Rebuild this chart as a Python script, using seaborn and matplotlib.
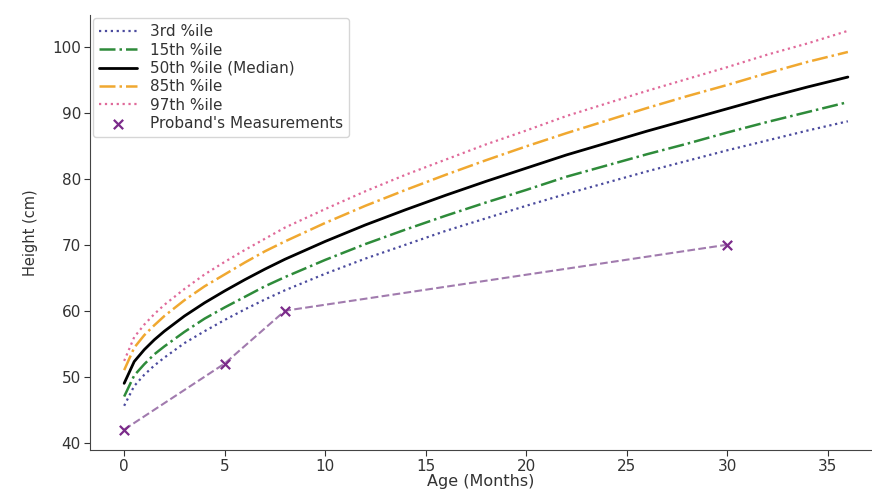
import matplotlib
matplotlib.use("Agg")
import matplotlib.pyplot as plt
import seaborn as sns
import pandas as pd

# Data
ages = [0, 0.5, 1, 1.5, 2, 3, 4, 5, 6, 7, 8, 10, 12, 14, 16, 18, 20, 22, 24, 26, 28, 30, 32, 34, 36]
p3 = [45.6, 48.6, 50.3, 51.7, 52.9, 55.1, 56.9, 58.6, 60.2, 61.7, 63.1, 65.6, 67.9, 70.0, 72.1, 74.0,
      75.9, 77.7, 79.4, 81.1, 82.7, 84.3, 85.8, 87.3, 88.7]
p15 = [47.0, 50.2, 51.9, 53.4, 54.6, 56.8, 58.8, 60.5, 62.1, 63.7, 65.1, 67.7, 70.1, 72.3, 74.4, 76.4,
       78.3, 80.3, 82.0, 83.7, 85.3, 87.0, 88.6, 90.1, 91.6]
p50 = [49.0, 52.3, 54.1, 55.6, 56.9, 59.2, 61.2, 63.0, 64.7, 66.3, 67.8, 70.5, 73.0, 75.3, 77.5, 79.6,
       81.6, 83.6, 85.4, 87.2, 88.9, 90.6, 92.3, 93.9, 95.4]
p85 = [51.0, 54.4, 56.3, 57.8, 59.2, 61.6, 63.7, 65.5, 67.3, 69.0, 70.5, 73.3, 75.9, 78.3, 80.6, 82.8,
       84.9, 86.9, 88.8, 90.7, 92.5, 94.2, 96.0, 97.7, 99.2]
p97 = [52.4, 56.0, 57.9, 59.5, 60.9, 63.3, 65.5, 67.4, 69.2, 70.9, 72.6, 75.4, 78.1, 80.6, 82.9, 85.2,
       87.3, 89.5, 91.4, 93.3, 95.1, 96.9, 98.8, 100.5, 102.4]

proband_ages = [0, 5, 8, 30]
proband_heights = [42, 52, 60, 70]

sns.set_style("ticks")
plt.rcParams['font.family'] = ['DejaVu Sans']

fig = plt.figure(figsize=(8.72, 4.9), dpi=100)
ax = fig.add_axes([0.1032, 0.0816, 0.8968, 0.8878])

curves = pd.DataFrame({"age": ages, "p3": p3, "p15": p15, "p50": p50, "p85": p85, "p97": p97})
styles = [
    ("p3", "3rd %ile", "#4b4b9e", ":", 1.6),
    ("p15", "15th %ile", "#2e8b3a", "-.", 1.8),
    ("p50", "50th %ile (Median)", "black", "-", 2.0),
    ("p85", "85th %ile", "#f0a830", "-.", 1.8),
    ("p97", "97th %ile", "#e06a9a", ":", 1.6),
]
for col, lab, colr, ls, lw in styles:
    sns.lineplot(data=curves, x="age", y=col, ax=ax, color=colr, linestyle=ls, linewidth=lw, label=lab)

prob = pd.DataFrame({"age": proband_ages, "h": proband_heights})
sns.lineplot(data=prob, x="age", y="h", ax=ax, color="#8a5a9a", linestyle="--", linewidth=1.5, alpha=0.8)
sns.scatterplot(data=prob, x="age", y="h", ax=ax, color="#7b2a8a", marker="x", s=45, linewidth=1.6,
                label="Proband's Measurements", zorder=5)

ax.set_xlim(-1.7, 37.2)
ax.set_ylim(38.9, 104.8)
ax.set_xticks([0, 5, 10, 15, 20, 25, 30, 35])
ax.set_yticks([40, 50, 60, 70, 80, 90, 100])
ax.tick_params(labelsize=11, colors="#333333", length=4, pad=2.5)
ax.set_xlabel("Age (Months)", fontsize=11.5, color="#333333", labelpad=0)
ax.set_ylabel("Height (cm)", fontsize=10.5, color="#333333", labelpad=10)
for s in ["left", "bottom"]:
    ax.spines[s].set_color("#444444")
sns.despine(ax=ax)

leg = ax.legend(loc="upper left", fontsize=11, frameon=True, borderaxespad=0.2,
                handlelength=2.5, handletextpad=0.8, labelspacing=0.22, borderpad=0.4)
for t in leg.get_texts():
    t.set_color("#333333")

fig.savefig("out.png", dpi=100)
